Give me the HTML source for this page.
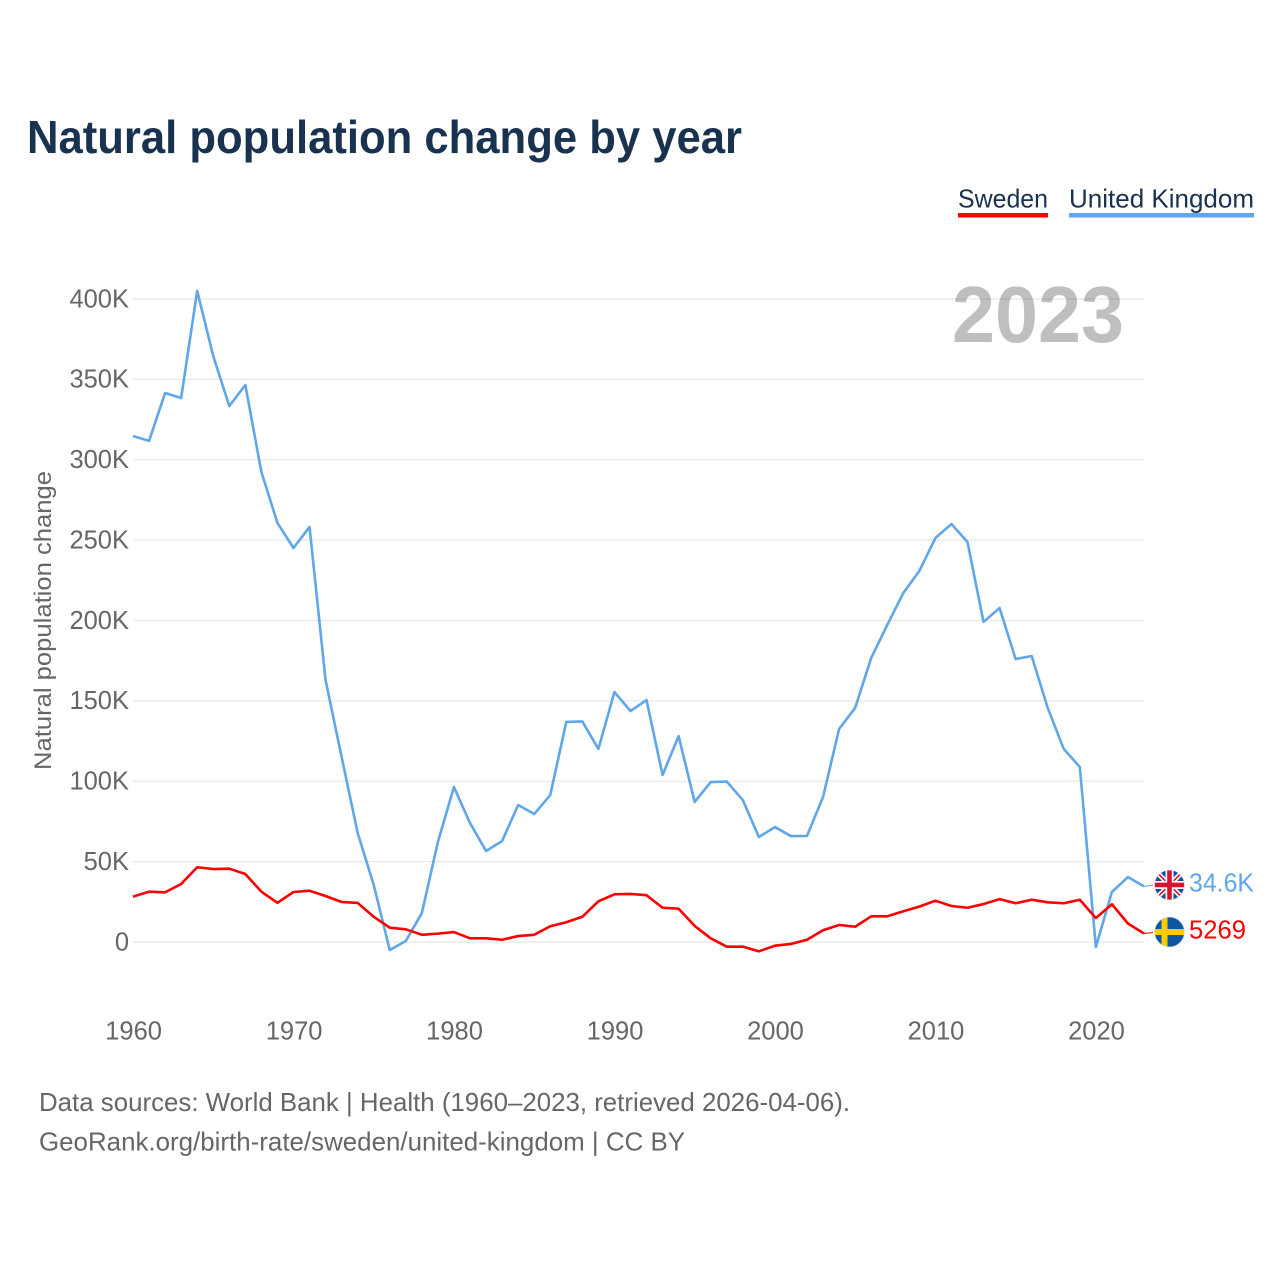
<!DOCTYPE html>
<html lang="en">
<head>
<meta charset="utf-8">
<title>Natural population change by year</title>
<style>
html,body{margin:0;padding:0;background:#fff;}
svg{display:block;}
text{font-family:"Liberation Sans",sans-serif;}
</style>
</head>
<body>
<svg id="chart" xmlns="http://www.w3.org/2000/svg" width="1280" height="1280" viewBox="0 0 1280 1280">
  <rect width="1280" height="1280" fill="#fff"/>
  <text x="27" y="153" font-size="46" font-weight="700" fill="#18324f" textLength="715" lengthAdjust="spacingAndGlyphs">Natural population change by year</text>

  <g>
    <text x="958" y="207.5" font-size="26" fill="#18324f" textLength="90" lengthAdjust="spacingAndGlyphs">Sweden</text>
    <rect x="958" y="213" width="90" height="4.5" fill="#ff0000"/>
  </g>
  <g>
    <text x="1069" y="207.5" font-size="26" fill="#18324f" textLength="185" lengthAdjust="spacingAndGlyphs">United Kingdom</text>
    <rect x="1069" y="213" width="185" height="4.5" fill="#5fa6ea"/>
  </g>

  <g id="grid"></g>
  <g id="y-ticks"></g>
  <g id="x-ticks"></g>
  <text transform="translate(51,620.5) rotate(-90)" text-anchor="middle" font-size="24" fill="#666" textLength="299" lengthAdjust="spacingAndGlyphs">Natural population change</text>

  <text x="952" y="342" font-size="80" font-weight="700" fill="#000" fill-opacity="0.25" textLength="172" lengthAdjust="spacingAndGlyphs">2023</text>

  <g id="series"></g>

  <defs>
    <clipPath id="flag-clip"><circle cx="0" cy="0" r="15"/></clipPath>
  </defs>
  <g id="flag-uk">
    <g clip-path="url(#flag-clip)">
      <rect x="-15" y="-15" width="30" height="30" fill="#0b4ea2"/>
      <path d="M-15-15L15 15M15-15L-15 15" stroke="#fff" stroke-width="5"/>
      <path d="M-15-15L15 15M15-15L-15 15" stroke="#d8122f" stroke-width="1.6"/>
      <path d="M0-15V15M-15 0H15" stroke="#fff" stroke-width="8"/>
      <path d="M0-15V15M-15 0H15" stroke="#d8122f" stroke-width="4.6"/>
    </g>
    <circle r="15" fill="none" stroke="#ddd" stroke-width="0.8"/>
  </g>
  <g id="flag-se">
    <g clip-path="url(#flag-clip)">
      <rect x="-15" y="-15" width="30" height="30" fill="#0b57a4"/>
      <rect x="-8" y="-15" width="6" height="30" fill="#fecc02"/>
      <rect x="-15" y="-3" width="30" height="6" fill="#fecc02"/>
    </g>
    <circle r="15" fill="none" stroke="#ddd" stroke-width="0.8"/>
  </g>
  <text id="label-uk" x="1189" font-size="26" fill="#5fa6ea" textLength="65" lengthAdjust="spacingAndGlyphs"></text>
  <text id="label-se" x="1189" font-size="26" fill="#ff0000" textLength="57" lengthAdjust="spacingAndGlyphs"></text>

  <text x="39" y="1111" font-size="26" fill="#666" textLength="811" lengthAdjust="spacingAndGlyphs">Data sources: World Bank | Health (1960–2023, retrieved 2026-04-06).</text>
  <text x="39" y="1150.5" font-size="26" fill="#666" textLength="646" lengthAdjust="spacingAndGlyphs">GeoRank.org/birth-rate/sweden/united-kingdom | CC BY</text>
</svg>

<script>
var firstYear = 1960;
var lastYear = 2023;
var yTickValues = [0, 50, 100, 150, 200, 250, 300, 350, 400];
var yTickLabels = ["0", "50K", "100K", "150K", "200K", "250K", "300K", "350K", "400K"];
var xTickYears = [1960, 1970, 1980, 1990, 2000, 2010, 2020];
var swedenValues = [
  28.2, 31.3, 30.9, 36.1, 46.5, 45.4, 45.6, 42.3, 31.3, 24.4,
  31.1, 31.9, 28.6, 24.9, 24.3, 15.7, 8.9, 7.9, 4.5, 5.2,
  6.2, 2.3, 2.3, 1.4, 3.7, 4.5, 9.8, 12.3, 15.7, 25.3,
  29.7, 29.9, 29.1, 21.3, 20.7, 10.0, 2.3, -2.9, -2.9, -5.8,
  -2.3, -1.2, 1.4, 7.3, 10.6, 9.5, 16.0, 16.0, 19.1, 22.0,
  25.7, 22.4, 21.3, 23.6, 26.7, 24.1, 26.3, 24.7, 24.1, 26.3,
  14.9, 23.5, 11.5, 5.269
];
var ukValues = [
  314.8, 311.7, 341.5, 338.4, 405.0, 364.5, 333.4, 346.5, 292.4, 260.7,
  245.1, 258.2, 163.0, 115.1, 67.8, 35.5, -5.0, 0.6, 18.0, 62.2,
  96.4, 74.0, 56.6, 62.8, 85.2, 79.6, 91.4, 136.9, 137.2, 120.1,
  155.5, 143.7, 150.5, 103.9, 128.1, 87.1, 99.5, 99.8, 88.3, 65.3,
  71.5, 65.9, 66.0, 90.2, 132.5, 145.6, 176.7, 197.2, 217.1, 230.8,
  251.3, 260.0, 248.8, 199.1, 207.8, 176.0, 177.9, 145.6, 120.1, 108.9,
  -3.1, 31.1, 40.4, 34.6
];
var swedenEndLabel = "5269";
var ukEndLabel = "34.6K";

var NS = "http://www.w3.org/2000/svg";
var plotLeft = 133, plotRight = 1144, zeroY = 942, topTickY = 299;

function xScale(index) {
  return plotLeft + (plotRight - plotLeft) * index / (lastYear - firstYear);
}
function yScale(value) {
  return zeroY - (zeroY - topTickY) * value / 400;
}
function svgEl(tag) {
  return document.createElementNS(NS, tag);
}
function pointsFor(values) {
  return values.map(function (v, i) {
    return xScale(i).toFixed(2) + "," + yScale(v).toFixed(2);
  }).join(" ");
}

var gridGroup = document.getElementById("grid");
var yTickGroup = document.getElementById("y-ticks");
yTickValues.forEach(function (value, i) {
  var line = svgEl("line");
  
  
  line.setAttribute("x1", plotLeft);
  line.setAttribute("x2", plotRight);
  line.setAttribute("y1", yScale(value));
  line.setAttribute("y2", yScale(value));
  line.setAttribute("stroke", "#e8e8e8");
  line.setAttribute("stroke-width", "1.2");
  gridGroup.appendChild(line);

  var label = svgEl("text");
  
  
  label.setAttribute("x", 129);
  label.setAttribute("y", yScale(value) + 8.3);
  label.setAttribute("text-anchor", "end");
  label.setAttribute("font-size", "25.5");
  label.setAttribute("fill", "#666");
  label.textContent = yTickLabels[i];
  yTickGroup.appendChild(label);
});

var xTickGroup = document.getElementById("x-ticks");
xTickYears.forEach(function (year) {
  var label = svgEl("text");
  
  
  label.setAttribute("x", xScale(year - firstYear) + 0.6);
  label.setAttribute("y", 1039.5);
  label.setAttribute("text-anchor", "middle");
  label.setAttribute("font-size", "25.5");
  label.setAttribute("fill", "#666");
  label.textContent = String(year);
  xTickGroup.appendChild(label);
});

var seriesGroup = document.getElementById("series");

var swedenLine = svgEl("polyline");


swedenLine.setAttribute("points", pointsFor(swedenValues));
swedenLine.setAttribute("fill", "none");
swedenLine.setAttribute("stroke", "#ff0000");
swedenLine.setAttribute("stroke-width", "2.6");
swedenLine.setAttribute("stroke-linejoin", "round");

var ukLine = svgEl("polyline");


ukLine.setAttribute("points", pointsFor(ukValues));
ukLine.setAttribute("fill", "none");
ukLine.setAttribute("stroke", "#5fa6ea");
ukLine.setAttribute("stroke-width", "2.6");
ukLine.setAttribute("stroke-linejoin", "round");

seriesGroup.appendChild(ukLine);
seriesGroup.appendChild(swedenLine);

var ukEndY = yScale(ukValues[ukValues.length - 1]);
var seEndY = yScale(swedenValues[swedenValues.length - 1]);

var ukLeader = svgEl("line");


ukLeader.setAttribute("x1", plotRight);
ukLeader.setAttribute("x2", plotRight + 9);
ukLeader.setAttribute("y1", ukEndY);
ukLeader.setAttribute("y2", ukEndY - 1);
ukLeader.setAttribute("stroke", "#5fa6ea");
ukLeader.setAttribute("stroke-width", "1");
seriesGroup.appendChild(ukLeader);

var seLeader = svgEl("line");


seLeader.setAttribute("x1", plotRight);
seLeader.setAttribute("x2", plotRight + 9);
seLeader.setAttribute("y1", seEndY);
seLeader.setAttribute("y2", seEndY - 1);
seLeader.setAttribute("stroke", "#ff0000");
seLeader.setAttribute("stroke-width", "1");
seriesGroup.appendChild(seLeader);

document.getElementById("flag-uk").setAttribute("transform", "translate(1169.5," + (ukEndY - 1.4) + ")");
document.getElementById("flag-se").setAttribute("transform", "translate(1169.5," + (seEndY - 1.5) + ")");

var ukLabel = document.getElementById("label-uk");
ukLabel.setAttribute("y", ukEndY + 5.2);
ukLabel.textContent = ukEndLabel;
var seLabel = document.getElementById("label-se");
seLabel.setAttribute("y", seEndY + 5);
seLabel.textContent = swedenEndLabel;
</script>
</body>
</html>
